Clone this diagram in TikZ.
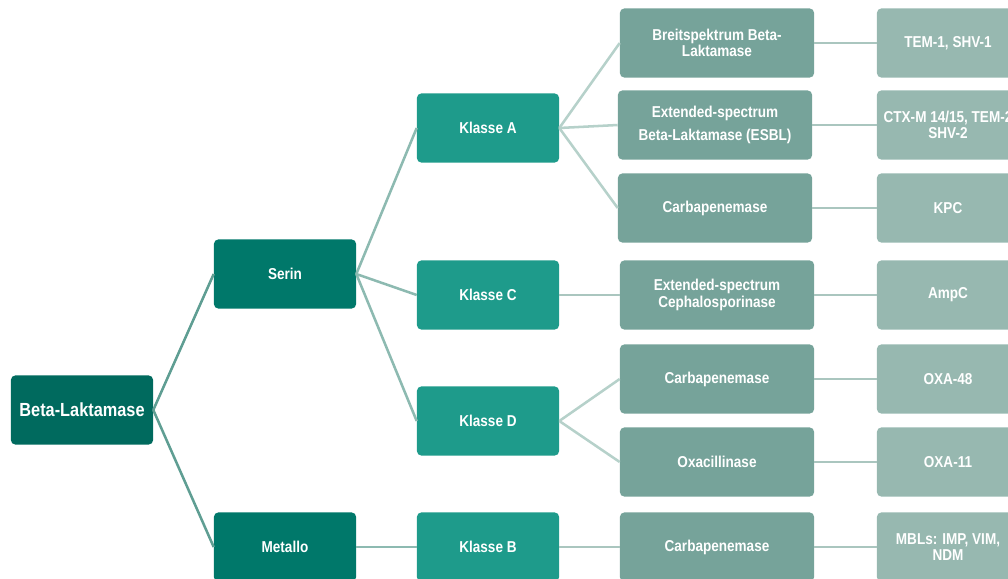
\documentclass[tikz,border=0pt]{standalone}
\usepackage{fontspec}
\setmainfont{Liberation Sans}[FakeStretch=0.86]
\usetikzlibrary{positioning}

\definecolor{rootgreen}{HTML}{006A5E}
\definecolor{levelone}{HTML}{00786A}
\definecolor{leveltwo}{HTML}{1E9B8B}
\definecolor{levelthree}{HTML}{76A39A}
\definecolor{levelfour}{HTML}{97B8B0}
\definecolor{linkone}{HTML}{5F9E93}
\definecolor{linktwo}{HTML}{8DBAB1}
\definecolor{linkthree}{HTML}{B6D1CA}
\definecolor{linkfour}{HTML}{AAC6BF}

\tikzset{
    box/.style={rectangle, rounded corners=3pt, text=white, font=\bfseries\fontsize{11.2}{11.5}\selectfont,
        align=center, minimum width=3.55cm, minimum height=1.725cm, inner sep=1pt},
    rootbox/.style={box, fill=rootgreen, font=\bfseries\fontsize{13.5}{15}\selectfont},
    onebox/.style={box, fill=levelone},
    twobox/.style={box, fill=leveltwo},
    threebox/.style={box, fill=levelthree, minimum width=4.85cm},
    fourbox/.style={box, fill=levelfour},
    link/.style={line width=1.8pt}
}

\begin{document}
\begin{tikzpicture}[x=0.025cm, y=-0.025cm]
        \clip (0,0) rectangle (1008,579);

        % Wurzel
        \node[rootbox] (root) at (82,410) {Beta-Laktamase};

        % Serin / Metallo
        \node[onebox] (serin) at (285,274) {Serin};
        \node[onebox] (metallo) at (285,547) {Metallo};

        % Klassen
        \node[twobox] (klasseA) at (488,128) {Klasse A};
        \node[twobox] (klasseC) at (488,295) {Klasse C};
        \node[twobox] (klasseD) at (488,421) {Klasse D};
        \node[twobox] (klasseB) at (488,547) {Klasse B};

        % Enzymgruppen
        \node[threebox] (breit) at (717,43) {Breitspektrum Beta-\\Laktamase};
        \node[threebox] (esbl) at (715,125) {Extended-spectrum\\[5pt]Beta-Laktamase (ESBL)};
        \node[threebox] (carbA) at (715,208) {Carbapenemase};
        \node[threebox] (cephalo) at (717,295) {Extended-spectrum\\Cephalosporinase};
        \node[threebox] (carbD) at (717,379) {Carbapenemase};
        \node[threebox] (oxa) at (717,462) {Oxacillinase};
        \node[threebox] (carbB) at (717,547) {Carbapenemase};

        % Beispiele
        \node[fourbox] (tem) at (948,43) {TEM-1, SHV-1};
        \node[fourbox] (ctx) at (948,125) {CTX-M 14/15, TEM-2\\SHV-2};
        \node[fourbox] (kpc) at (948,208) {KPC};
        \node[fourbox] (ampc) at (948,295) {AmpC};
        \node[fourbox] (oxa48) at (948,379) {OXA-48};
        \node[fourbox] (oxa11) at (948,462) {OXA-11};
        \node[fourbox] (mbl) at (948,547) {MBLs: IMP, VIM,\\NDM};

        % Verbindungen
        \draw[link, linkone] (root.east) -- (serin.west);
        \draw[link, linkone] (root.east) -- (metallo.west);
        \draw[link, linktwo] (serin.east) -- (klasseA.west);
        \draw[link, linktwo] (serin.east) -- (klasseC.west);
        \draw[link, linktwo] (serin.east) -- (klasseD.west);
        \draw[link, linktwo] (metallo.east) -- (klasseB.west);
        \draw[link, linkthree] (klasseA.east) -- (breit.west);
        \draw[link, linkthree] (klasseA.east) -- (esbl.west);
        \draw[link, linkthree] (klasseA.east) -- (carbA.west);
        \draw[link, linkfour] (klasseC.east) -- (cephalo.west);
        \draw[link, linkthree] (klasseD.east) -- (carbD.west);
        \draw[link, linkthree] (klasseD.east) -- (oxa.west);
        \draw[link, linkfour] (klasseB.east) -- (carbB.west);
        \draw[link, linkfour] (breit.east) -- (tem.west);
        \draw[link, linkfour] (esbl.east) -- (ctx.west);
        \draw[link, linkfour] (carbA.east) -- (kpc.west);
        \draw[link, linkfour] (cephalo.east) -- (ampc.west);
        \draw[link, linkfour] (carbD.east) -- (oxa48.west);
        \draw[link, linkfour] (oxa.east) -- (oxa11.west);
        \draw[link, linkfour] (carbB.east) -- (mbl.west);
    \end{tikzpicture}
\end{document}
